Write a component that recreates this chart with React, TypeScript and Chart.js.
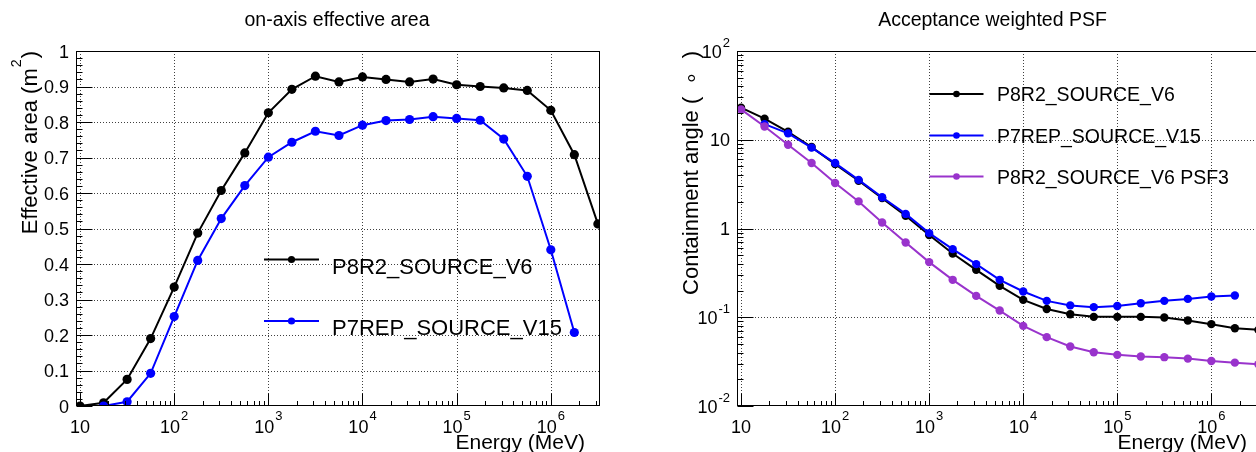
import React, { useEffect, useRef } from "react";
import { Chart, registerables } from "chart.js";
Chart.register(...registerables);

// ---------- data ----------
const energyMeV = [
  10, 17.78, 31.62, 56.23, 100, 177.8, 316.2, 562.3, 1000, 1778, 3162, 5623,
  10000, 17780, 31620, 56230, 100000, 177800, 316200, 562300, 1000000, 1778000, 3162000,
];

const areaP8R2 = [
  0.0, 0.009, 0.075, 0.19, 0.335, 0.487, 0.607, 0.713, 0.826, 0.892, 0.929, 0.913,
  0.927, 0.92, 0.913, 0.921, 0.905, 0.9, 0.896, 0.889, 0.833, 0.708, 0.513,
];
const areaP7REP = [
  null, 0.0, 0.012, 0.092, 0.252, 0.41, 0.528, 0.621, 0.701, 0.743, 0.774, 0.762,
  0.791, 0.804, 0.807, 0.815, 0.81, 0.805, 0.752, 0.647, 0.44, 0.207, null,
];

const psfP8R2 = [
  23.0, 17.3, 12.3, 8.27, 5.32, 3.45, 2.2, 1.39, 0.843, 0.522, 0.342, 0.226,
  0.157, 0.124, 0.108, 0.101, 0.101, 0.101, 0.0993, 0.0918, 0.0836, 0.0753, 0.0721,
];
const psfP7REP = [
  null, 15.0, 11.8, 8.15, 5.46, 3.53, 2.25, 1.46, 0.887, 0.586, 0.397, 0.264,
  0.195, 0.153, 0.136, 0.13, 0.134, 0.144, 0.153, 0.161, 0.171, 0.176, null,
];
const psfP8R2PSF3 = [
  22.0, 14.1, 8.79, 5.46, 3.25, 2.02, 1.17, 0.695, 0.418, 0.264, 0.174, 0.119,
  0.08, 0.0597, 0.0468, 0.0404, 0.0377, 0.0361, 0.0355, 0.0342, 0.0322, 0.0308, 0.0296,
];

const seriesNames = ["P8R2_SOURCE_V6", "P7REP_SOURCE_V15", "P8R2_SOURCE_V6 PSF3"];
const seriesColors = ["#000000", "#0000ff", "#9933cc"];

const energyDecades = [10, 100, 1000, 10000, 100000, 1000000];
const energyExps = [1, 2, 3, 4, 5, 6];
const energyMinorMult = [2, 3, 4, 5, 6, 7, 8, 9];

const areaTicks = [0, 0.1, 0.2, 0.3, 0.4, 0.5, 0.6, 0.7, 0.8, 0.9, 1];
const areaTickLabels = ["0", "0.1", "0.2", "0.3", "0.4", "0.5", "0.6", "0.7", "0.8", "0.9", "1"];

const psfDecades = [0.01, 0.1, 1, 10, 100];
const psfExps = [-2, -1, 0, 1, 2];

const FONT = '"Liberation Sans", Arial, Helvetica, sans-serif';

// ---------- helpers ----------
function setFont(ctx: CanvasRenderingContext2D, size: number) {
  ctx.font = `${size}px ${FONT}`;
}

function drawPower(
  ctx: CanvasRenderingContext2D,
  exp: number,
  x: number,
  baseline: number,
  align: "center" | "right",
  baseSize: number,
  supSize: number,
  raise: number
) {
  const base = exp === 0 ? "1" : "10";
  const sup = exp === 0 || exp === 1 ? "" : exp < 0 ? "-" + -exp : String(exp);
  setFont(ctx, baseSize);
  const wb = ctx.measureText(base).width;
  setFont(ctx, supSize);
  const ws = sup ? ctx.measureText(sup).width + 1 : 0;
  const total = wb + ws;
  const sx = align === "center" ? x - total / 2 : x - total;
  ctx.textAlign = "left";
  ctx.textBaseline = "alphabetic";
  setFont(ctx, baseSize);
  ctx.fillText(base, sx, baseline);
  if (sup) {
    setFont(ctx, supSize);
    ctx.fillText(sup, sx + wb + 1, baseline - raise);
  }
}

type TitlePart = { t: string; sup?: boolean };

type RootCfg = {
  title: string;
  titleX: number;
  yLog: boolean;
  yMajor: number[];
  yMinor: number[];
  yLabelRight: number;
  yLabels: (ctx: CanvasRenderingContext2D, i: number, py: number) => void;
  yTitle: TitlePart[];
  yTitleBaseX: number;
  yTitleSize: number;
  xTitleRight: number;
  legend: {
    x1: number;
    x2: number;
    textX: number;
    size: number;
    r: number;
    rows: { label: string; color: string; y: number; baseline: number }[];
  };
};

function line(ctx: CanvasRenderingContext2D, x1: number, y1: number, x2: number, y2: number) {
  ctx.beginPath();
  ctx.moveTo(x1, y1);
  ctx.lineTo(x2, y2);
  ctx.stroke();
}

function rootPlugin(cfg: RootCfg) {
  return {
    id: "rootStyle",
    beforeDatasetsDraw(chart: any) {
      const { ctx, chartArea: a, scales } = chart;
      const xs = scales.x;
      const ys = scales.y;
      ctx.save();
      ctx.strokeStyle = "rgba(0,0,0,0.75)";
      ctx.lineWidth = 1;
      ctx.setLineDash([1, 2]);
      for (const v of energyDecades) {
        const px = Math.round(xs.getPixelForValue(v)) + 0.5;
        if (px > a.left + 1 && px < a.right - 1) line(ctx, px, a.top, px, a.bottom);
      }
      for (const v of cfg.yMajor) {
        const py = Math.round(ys.getPixelForValue(v)) + 0.5;
        if (py > a.top + 1 && py < a.bottom - 1) line(ctx, a.left, py, a.right, py);
      }
      ctx.restore();
    },
    afterDraw(chart: any) {
      const { ctx, chartArea: a, scales } = chart;
      const xs = scales.x;
      const ys = scales.y;
      ctx.save();
      ctx.setLineDash([]);
      ctx.strokeStyle = "#000";
      ctx.fillStyle = "#000";
      ctx.lineWidth = 1;
      const L = Math.round(a.left) + 0.5;
      const R = Math.round(a.right) - 0.5;
      const T = Math.round(a.top) + 0.5;
      const B = Math.round(a.bottom) - 0.5;
      // frame
      ctx.strokeRect(L, T, R - L, B - T);

      // x ticks
      for (const v of energyDecades) {
        const px = Math.round(xs.getPixelForValue(v)) + 0.5;
        line(ctx, px, B, px, B - 12);
      }
      for (const d of [1, 10, 100, 1000, 10000, 100000, 1000000]) {
        for (const m of energyMinorMult) {
          const v = d * m;
          if (v < xs.min || v > xs.max) continue;
          const px = Math.round(xs.getPixelForValue(v)) + 0.5;
          if (px < a.left || px > a.right) continue;
          line(ctx, px, B, px, B - 4.5);
        }
      }
      // y ticks
      for (const v of cfg.yMajor) {
        const py = Math.round(ys.getPixelForValue(v)) + 0.5;
        line(ctx, L, py, L + 16, py);
      }
      for (const v of cfg.yMinor) {
        const py = Math.round(ys.getPixelForValue(v)) + 0.5;
        line(ctx, L, py, L + 6, py);
      }

      // x tick labels
      energyDecades.forEach((v, i) => {
        const px = xs.getPixelForValue(v);
        drawPower(ctx, energyExps[i], px, 432.5, "center", 18, 13, 13);
      });
      // y tick labels
      cfg.yMajor.forEach((v, i) => {
        const py = ys.getPixelForValue(v);
        cfg.yLabels(ctx, i, py);
      });

      // title
      setFont(ctx, 19.5);
      ctx.textAlign = "center";
      ctx.textBaseline = "alphabetic";
      ctx.fillText(cfg.title, cfg.titleX, 26);

      // x title
      setFont(ctx, 21);
      ctx.textAlign = "right";
      ctx.fillText("Energy (MeV)", cfg.xTitleRight, 449);

      // y title (rotated, right-aligned to the frame top)
      ctx.save();
      ctx.translate(cfg.yTitleBaseX, a.top);
      ctx.rotate(-Math.PI / 2);
      ctx.textAlign = "left";
      let total = 0;
      const widths: number[] = [];
      for (const p of cfg.yTitle) {
        setFont(ctx, p.sup ? cfg.yTitleSize * 0.65 : cfg.yTitleSize);
        const w = ctx.measureText(p.t).width + (p.sup ? 2 : 0);
        widths.push(w);
        total += w;
      }
      let cx = -total;
      cfg.yTitle.forEach((p, i) => {
        setFont(ctx, p.sup ? cfg.yTitleSize * 0.65 : cfg.yTitleSize);
        ctx.fillText(p.t, cx + (p.sup ? 1 : 0), p.sup ? -cfg.yTitleSize * 0.72 : 0);
        cx += widths[i];
      });
      ctx.restore();

      // legend
      const lg = cfg.legend;
      for (const row of lg.rows) {
        ctx.strokeStyle = row.color;
        ctx.fillStyle = row.color;
        ctx.lineWidth = 2;
        line(ctx, lg.x1, row.y, lg.x2, row.y);
        ctx.beginPath();
        ctx.arc((lg.x1 + lg.x2) / 2, row.y, lg.r, 0, Math.PI * 2);
        ctx.fill();
        ctx.fillStyle = "#000";
        setFont(ctx, lg.size);
        ctx.textAlign = "left";
        ctx.textBaseline = "alphabetic";
        ctx.fillText(row.label, lg.textX, row.baseline);
      }
      ctx.restore();
    },
  };
}

function toPoints(vals: (number | null)[]) {
  return energyMeV
    .map((e, i) => ({ x: e, y: vals[i] }))
    .filter((p) => p.y !== null) as { x: number; y: number }[];
}

function makeDataset(vals: (number | null)[], idx: number, order: number, r: number) {
  return {
    label: seriesNames[idx],
    data: toPoints(vals),
    borderColor: seriesColors[idx],
    backgroundColor: seriesColors[idx],
    pointBackgroundColor: seriesColors[idx],
    pointBorderColor: seriesColors[idx],
    pointBorderWidth: 0,
    pointRadius: r,
    pointHoverRadius: r,
    borderWidth: 2,
    tension: 0,
    order,
  };
}

const H = 452;
const FRAME_TOP = 51;
const FRAME_BOTTOM = 406;

function buildOptions(
  W: number,
  frameLeft: number,
  frameRight: number,
  yScale: any
) {
  return {
    animation: false,
    responsive: false,
    devicePixelRatio: 1,
    events: [],
    layout: { padding: { left: 0, top: FRAME_TOP, right: W - frameRight, bottom: 0 } },
    plugins: {
      legend: { display: false },
      title: { display: false },
      tooltip: { enabled: false },
    },
    scales: {
      x: {
        type: "logarithmic",
        min: 9.06,
        max: 3.29e6,
        grid: { display: false },
        border: { display: false },
        ticks: { display: false },
        afterFit: (s: any) => {
          s.height = H - FRAME_BOTTOM;
        },
      },
      y: {
        ...yScale,
        grid: { display: false },
        border: { display: false },
        ticks: { display: false },
        afterFit: (s: any) => {
          s.width = frameLeft;
        },
      },
    },
  };
}

function AreaChart() {
  const ref = useRef<HTMLCanvasElement>(null);
  useEffect(() => {
    if (!ref.current) return;
    const W = 628;
    const cfg: RootCfg = {
      title: "on-axis effective area",
      titleX: 337,
      yLog: false,
      yMajor: areaTicks,
      yMinor: [
        0.02, 0.04, 0.06, 0.08, 0.12, 0.14, 0.16, 0.18, 0.22, 0.24, 0.26, 0.28, 0.32, 0.34, 0.36, 0.38,
        0.42, 0.44, 0.46, 0.48, 0.52, 0.54, 0.56, 0.58, 0.62, 0.64, 0.66, 0.68, 0.72, 0.74, 0.76, 0.78,
        0.82, 0.84, 0.86, 0.88, 0.92, 0.94, 0.96, 0.98,
      ],
      yLabelRight: 69,
      yLabels: (ctx, i, py) => {
        setFont(ctx, 18);
        ctx.textAlign = "right";
        ctx.textBaseline = "alphabetic";
        ctx.fillText(areaTickLabels[i], 69, py + 6.5);
      },
      yTitle: [{ t: "Effective area (m" }, { t: "2", sup: true }, { t: ")" }],
      yTitleBaseX: 37,
      yTitleSize: 22,
      xTitleRight: 585,
      legend: {
        x1: 264,
        x2: 319,
        textX: 332,
        size: 22,
        r: 3.6,
        rows: [
          { label: seriesNames[0], color: seriesColors[0], y: 259.5, baseline: 273.5 },
          { label: seriesNames[1], color: seriesColors[1], y: 321, baseline: 335 },
        ],
      },
    };
    const chart = new Chart(ref.current, {
      type: "line",
      data: {
        datasets: [makeDataset(areaP8R2, 0, 2, 4.6), makeDataset(areaP7REP, 1, 1, 4.6)],
      },
      options: buildOptions(W, 76, 599.5, { type: "linear", min: 0, max: 1 }) as any,
      plugins: [rootPlugin(cfg)],
    });
    return () => chart.destroy();
  }, []);
  return (
    <canvas
      ref={ref}
      width={628}
      height={H}
      style={{ position: "absolute", left: 0, top: 0, width: 628, height: H }}
    />
  );
}

function PsfChart() {
  const ref = useRef<HTMLCanvasElement>(null);
  useEffect(() => {
    if (!ref.current) return;
    const W = 660;
    const minors: number[] = [];
    for (const d of [0.01, 0.1, 1, 10]) for (const m of [2, 3, 4, 5, 6, 7, 8, 9]) minors.push(d * m);
    const cfg: RootCfg = {
      title: "Acceptance weighted PSF",
      titleX: 992.5 - 628,
      yLog: true,
      yMajor: psfDecades,
      yMinor: minors,
      yLabelRight: 102,
      yLabels: (ctx, i, py) => {
        drawPower(ctx, psfExps[i], 102, py + 6.5, "right", 18, 13, 11);
      },
      yTitle: [{ t: "Containment angle (  \u2218  )" }],
      yTitleBaseX: 698 - 628,
      yTitleSize: 22,
      xTitleRight: 1247 - 628,
      legend: {
        x1: 301.5,
        x2: 355.5,
        textX: 369,
        size: 19.5,
        r: 3.3,
        rows: [
          { label: seriesNames[0], color: seriesColors[0], y: 94, baseline: 101 },
          { label: seriesNames[1], color: seriesColors[1], y: 135.5, baseline: 142.5 },
          { label: seriesNames[2], color: seriesColors[2], y: 176.5, baseline: 183.5 },
        ],
      },
    };
    const chart = new Chart(ref.current, {
      type: "line",
      data: {
        datasets: [
          makeDataset(psfP8R2, 0, 3, 4.2),
          makeDataset(psfP7REP, 1, 2, 4.2),
          makeDataset(psfP8R2PSF3, 2, 1, 4.2),
        ],
      },
      options: buildOptions(W, 109, 632, { type: "logarithmic", min: 0.01, max: 100 }) as any,
      plugins: [rootPlugin(cfg)],
    });
    return () => chart.destroy();
  }, []);
  return (
    <canvas
      ref={ref}
      width={660}
      height={H}
      style={{ position: "absolute", left: 628, top: 0, width: 660, height: H }}
    />
  );
}

export default function App() {
  return (
    <div
      style={{
        position: "fixed",
        left: 0,
        top: 0,
        width: 1256,
        height: H,
        overflow: "hidden",
        background: "#ffffff",
      }}
    >
      <AreaChart />
      <PsfChart />
    </div>
  );
}
